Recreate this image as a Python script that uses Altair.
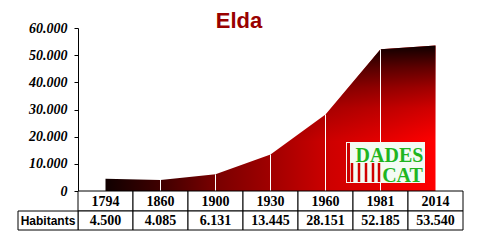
import altair as alt
import pandas as pd

years = ["1794", "1860", "1900", "1930", "1960", "1981", "2014"]
habitants = [4500, 4085, 6131, 13445, 28151, 52185, 53540]
value_labels = ["4.500", "4.085", "6.131", "13.445", "28.151", "52.185", "53.540"]
row_label = ["Habitants"]
title_text = ["Elda"]
y_ticks = [0, 10000, 20000, 30000, 40000, 50000, 60000]
logo_lines = ["DADES", "CAT"]

df = pd.DataFrame({"year": years, "hab": habitants, "label": value_labels})
inner = df[df["year"].isin(years[1:-1])]

W, H = 385, 163

xenc = alt.X("year:O", sort=years,
             scale=alt.Scale(type="band", paddingInner=0, paddingOuter=0),
             axis=None)
yscale = alt.Scale(domain=[0, 60000], nice=False)
yaxis = alt.Axis(values=y_ticks, title=None, grid=False,
                 labelExpr="replace(format(datum.value, ','), ',', '.')",
                 labelFont="Liberation Serif", labelFontSize=14,
                 labelFontStyle="italic", labelFontWeight="bold",
                 labelColor="black", domainColor="black",
                 tickColor="black", tickSize=4, labelPadding=7)
yenc = alt.Y("hab:Q", scale=yscale, axis=yaxis)

base_grad = alt.LinearGradient(
    gradient="linear", x1=0, y1=0, x2=1, y2=0,
    stops=[alt.GradientStop(color="#100000", offset=0),
           alt.GradientStop(color="#400000", offset=0.17),
           alt.GradientStop(color="#780000", offset=0.33),
           alt.GradientStop(color="#a00000", offset=0.5),
           alt.GradientStop(color="#cc0000", offset=0.67),
           alt.GradientStop(color="#e40000", offset=0.83),
           alt.GradientStop(color="#ff0000", offset=1)])
shade_grad = alt.LinearGradient(
    gradient="linear", x1=0, y1=0, x2=0, y2=1,
    stops=[alt.GradientStop(color="rgba(0,0,0,0.94)", offset=0),
           alt.GradientStop(color="rgba(0,0,0,0.62)", offset=0.15),
           alt.GradientStop(color="rgba(0,0,0,0.37)", offset=0.29),
           alt.GradientStop(color="rgba(0,0,0,0.18)", offset=0.43),
           alt.GradientStop(color="rgba(0,0,0,0.06)", offset=0.58),
           alt.GradientStop(color="rgba(0,0,0,0)", offset=0.66),
           alt.GradientStop(color="rgba(0,0,0,0)", offset=1)])

area = alt.Chart(df).mark_area(interpolate="linear", color=base_grad).encode(x=xenc, y=yenc)
shade = alt.Chart(df).mark_area(interpolate="linear", color=shade_grad).encode(x=xenc, y=yenc)

rules = alt.Chart(inner).mark_rule(color="white", strokeWidth=1).encode(
    x=xenc, y=yenc, y2=alt.datum(0))

# logo
logo_box = alt.Chart(pd.DataFrame({"a": [0]})).mark_rect(fill="#f4fbf4").encode(
    x=alt.value(268), x2=alt.value(347), y=alt.value(114), y2=alt.value(155))
logo_bars = [
    alt.Chart(pd.DataFrame({"a": [0]})).mark_rule(color="#c80000", strokeWidth=3).encode(
        x=alt.value(270.5), y=alt.value(115), y2=alt.value(154))
]
for bx in [274, 281, 288, 295, 301]:
    logo_bars.append(
        alt.Chart(pd.DataFrame({"a": [0]})).mark_rule(color="#d00000", strokeWidth=2.5).encode(
            x=alt.value(bx), y=alt.value(135), y2=alt.value(154)))
logo_t1 = alt.Chart(pd.DataFrame({"t": [logo_lines[0]]})).mark_text(
    font="Liberation Serif", fontWeight="bold", fontSize=20, color="#1fb51f",
    baseline="alphabetic", align="center").encode(
    x=alt.value(311.5), y=alt.value(134), text="t:N")
logo_t2 = alt.Chart(pd.DataFrame({"t": [logo_lines[1]]})).mark_text(
    font="Liberation Serif", fontWeight="bold", fontSize=20, color="#1fb51f",
    baseline="alphabetic", align="center").encode(
    x=alt.value(324.5), y=alt.value(154), text="t:N")

# table
year_cells = alt.Chart(df).mark_rect(fill="white", stroke="black", strokeWidth=1).encode(
    x=xenc, y=alt.value(163), y2=alt.value(183))
val_cells = alt.Chart(df).mark_rect(fill="white", stroke="black", strokeWidth=1).encode(
    x=xenc, y=alt.value(183), y2=alt.value(202))
head_cell = alt.Chart(pd.DataFrame({"t": row_label})).mark_rect(
    fill="white", stroke="black", strokeWidth=1).encode(
    x=alt.value(-60), x2=alt.value(0), y=alt.value(183), y2=alt.value(202))
year_text = alt.Chart(df).mark_text(font="Liberation Serif", fontWeight="bold",
                                    fontSize=14, baseline="middle", color="black").encode(
    x=xenc, y=alt.value(173.5), text="year:N")
val_text = alt.Chart(df).mark_text(font="Liberation Serif", fontWeight="bold",
                                   fontSize=14, baseline="middle", color="black").encode(
    x=xenc, y=alt.value(193), text="label:N")
head_text = alt.Chart(pd.DataFrame({"t": row_label})).mark_text(
    font="Liberation Sans", fontWeight="bold", fontSize=12, baseline="middle",
    color="black").encode(x=alt.value(-30), y=alt.value(193), text="t:N")

title = alt.Chart(pd.DataFrame({"t": title_text})).mark_text(
    font="Liberation Sans", fontWeight="bold", fontSize=22, color="#990000",
    baseline="alphabetic", align="center").encode(
    x=alt.value(161), y=alt.value(0), text="t:N")

chart = alt.layer(area, shade, rules, logo_box, *logo_bars, logo_t1, logo_t2,
                  year_cells, val_cells, head_cell, year_text, val_text, head_text,
                  title).properties(
    width=W, height=H, autosize="none",
    padding={"left": 78, "top": 28, "right": 17, "bottom": 49},
    background="white"
).configure_view(stroke=None)

chart.save("out.html", embed_options={"renderer": "svg", "actions": False})
